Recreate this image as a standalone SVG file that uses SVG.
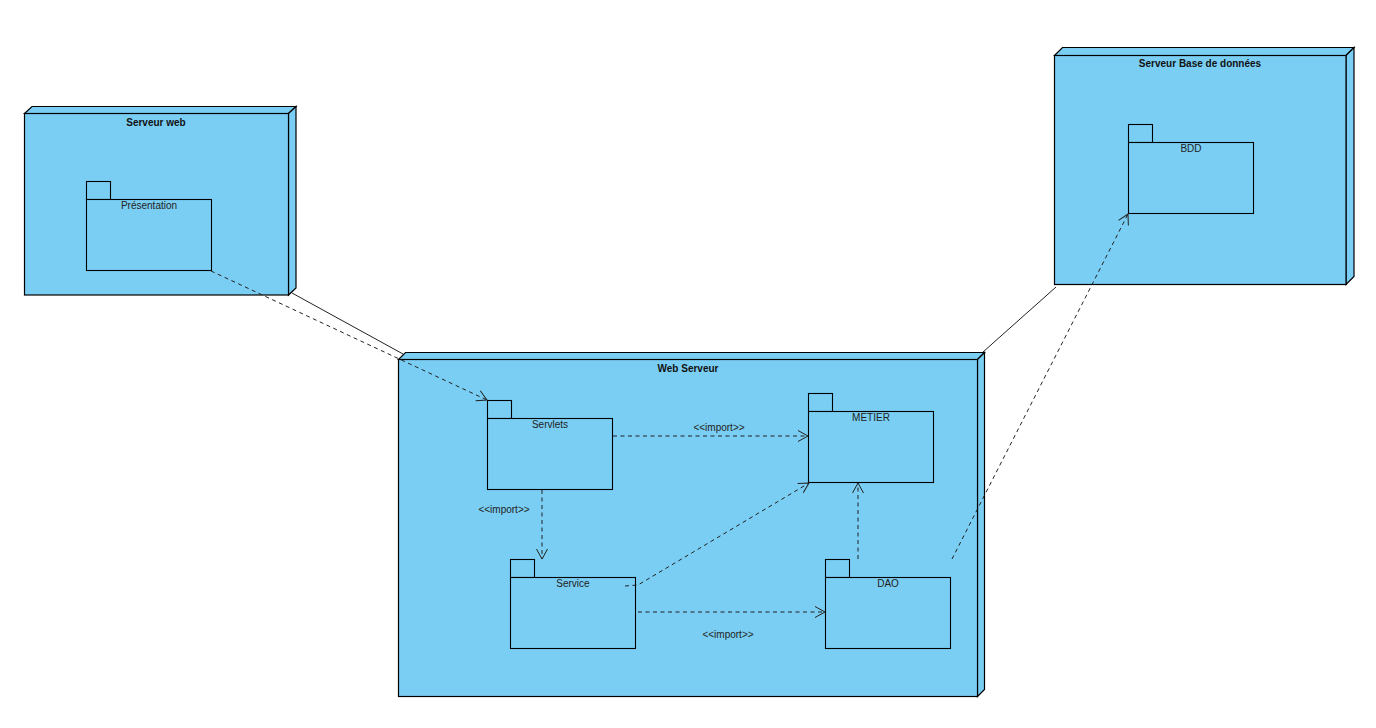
<svg xmlns="http://www.w3.org/2000/svg" width="1376" height="728" viewBox="0 0 1376 728">
  <defs>
    <marker id="open-arrow" markerUnits="userSpaceOnUse" markerWidth="14" markerHeight="14" viewBox="-12 -7 14 14" refX="0" refY="0" orient="auto">
      <path d="M-10,-5.5 L0,0 L-10,5.5" fill="none" stroke="#222" stroke-width="1"/>
    </marker>
  </defs>
  <style>
    .node { fill: #7acef3; stroke: #000; stroke-width: 1.2; stroke-linejoin: miter; }
    .pkg { fill: #7acef3; stroke: #000; stroke-width: 1.1; }
    .title { font-family: "Liberation Sans", Arial, sans-serif; font-size: 10px; font-weight: bold; fill: #111; text-anchor: middle; }
    .label { font-family: "Liberation Sans", Arial, sans-serif; font-size: 10px; fill: #222; text-anchor: middle; }
    .dep { fill: none; stroke: #222; stroke-width: 1; stroke-dasharray: 4 3.5; marker-end: url(#open-arrow); }
    .link { fill: none; stroke: #222; stroke-width: 1; }
  </style>
  <rect width="1376" height="728" fill="#fff"/>

  <!-- deployment nodes (3D boxes) -->
  <g id="node-serveur-web">
    <polygon class="node" points="24.5,113.5 32,106.5 296,106.5 288.5,113.5"/>
    <polygon class="node" points="288.5,113.5 296,106.5 296,288 288.5,295"/>
    <rect class="node" x="24.5" y="113.5" width="264" height="181.5"/>
    <text class="title" x="156" y="126">Serveur web</text>
  </g>

  <g id="node-serveur-bdd">
    <polygon class="node" points="1054.5,55.5 1062.5,47.5 1354,47.5 1346,55.5"/>
    <polygon class="node" points="1346,55.5 1354,47.5 1354,276.5 1346,284.5"/>
    <rect class="node" x="1054.5" y="55.5" width="291.5" height="229"/>
    <text class="title" x="1200" y="67">Serveur Base de données</text>
  </g>

  <g id="node-web-serveur">
    <polygon class="node" points="398.5,359.5 405.5,352.5 984.5,352.5 977.5,359.5"/>
    <polygon class="node" points="977.5,359.5 984.5,352.5 984.5,689.5 977.5,696.5"/>
    <rect class="node" x="398.5" y="359.5" width="579" height="337"/>
    <text class="title" x="688" y="372">Web Serveur</text>
  </g>

  <!-- packages -->
  <g id="pkg-presentation">
    <rect class="pkg" x="86.5" y="181.5" width="24" height="18"/>
    <rect class="pkg" x="86.5" y="199.5" width="125" height="71"/>
    <text class="label" x="149" y="209">Présentation</text>
  </g>

  <g id="pkg-bdd">
    <rect class="pkg" x="1128.5" y="124.5" width="24" height="18"/>
    <rect class="pkg" x="1128.5" y="142.5" width="125" height="71"/>
    <text class="label" x="1191" y="152">BDD</text>
  </g>

  <g id="pkg-servlets">
    <rect class="pkg" x="487.5" y="400.5" width="24" height="18"/>
    <rect class="pkg" x="487.5" y="418.5" width="125" height="71"/>
    <text class="label" x="550" y="428">Servlets</text>
  </g>

  <g id="pkg-metier">
    <rect class="pkg" x="808.5" y="393.5" width="24" height="18"/>
    <rect class="pkg" x="808.5" y="411.5" width="125" height="71"/>
    <text class="label" x="871" y="421">METIER</text>
  </g>

  <g id="pkg-service">
    <rect class="pkg" x="510.5" y="559.5" width="24" height="18"/>
    <rect class="pkg" x="510.5" y="577.5" width="125" height="71"/>
    <text class="label" x="573" y="587">Service</text>
  </g>

  <g id="pkg-dao">
    <rect class="pkg" x="825.5" y="559.5" width="24" height="18"/>
    <rect class="pkg" x="825.5" y="577.5" width="125" height="71"/>
    <text class="label" x="888" y="587">DAO</text>
  </g>

  <!-- connectors -->
  <g id="connectors">
    <line class="link" x1="292" y1="293" x2="403" y2="354"/>
    <line class="link" x1="983" y1="352" x2="1056" y2="287"/>

    <path class="dep" d="M211,271 L487,400"/>
    <path class="dep" d="M613,436 L808,436"/>
    <path class="dep" d="M542,490 L542,559"/>
    <path class="dep" d="M625,586 L638,585 L809,483"/>
    <path class="dep" d="M638,612 L825,612"/>
    <path class="dep" d="M858,559 L858,483"/>
    <path class="dep" d="M952,559 L1128,214"/>

    <text class="label" x="719" y="431">&lt;&lt;import&gt;&gt;</text>
    <text class="label" x="504" y="513">&lt;&lt;import&gt;&gt;</text>
    <text class="label" x="728" y="638">&lt;&lt;import&gt;&gt;</text>
  </g>
</svg>
